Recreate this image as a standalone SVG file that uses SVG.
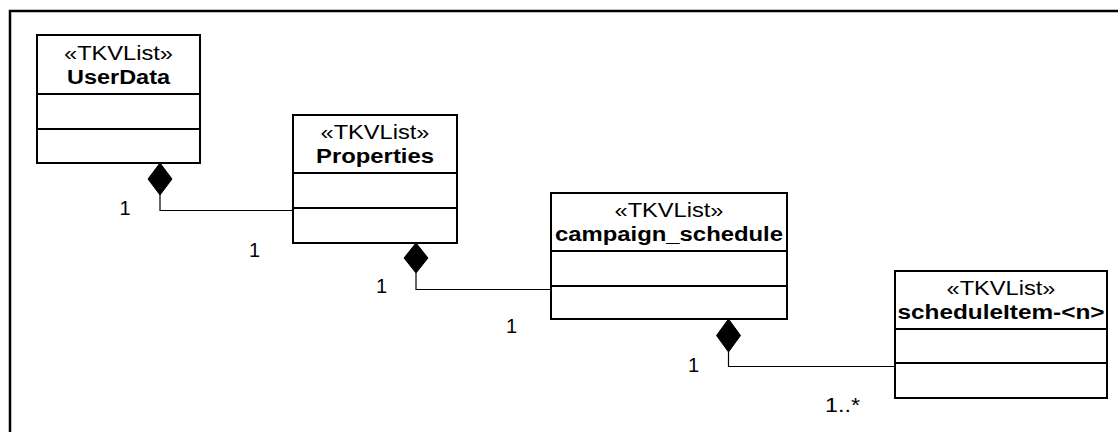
<svg xmlns="http://www.w3.org/2000/svg" width="1118" height="432" viewBox="0 0 1118 432">
<style>
.frame{fill:none;stroke:#000;stroke-width:2.5}
.box{fill:#fff;stroke:#000;stroke-width:2}
.div{stroke:#000;stroke-width:2}
.st{font-family:"Liberation Sans",Arial,sans-serif;font-size:20px;fill:#000;text-anchor:middle}
.nm{font-family:"Liberation Sans",Arial,sans-serif;font-size:20px;font-weight:bold;fill:#000;text-anchor:middle}
.lbl{font-family:"Liberation Sans",Arial,sans-serif;font-size:20px;fill:#000}
.conn{fill:none;stroke:#000;stroke-width:1.2}
.dia{fill:#000;stroke:#000;stroke-width:1}
</style>
<rect width="1118" height="432" fill="#fff"/>
<rect class="frame" x="10" y="11" width="1200" height="500"/>

<g id="UserData">
<rect class="box" x="37" y="35" width="163" height="128"/>
<line class="div" x1="37" y1="94" x2="200" y2="94"/>
<line class="div" x1="37" y1="129" x2="200" y2="129"/>
<text class="st" x="118.5" y="60" textLength="109" lengthAdjust="spacingAndGlyphs">«TKVList»</text>
<text class="nm" x="118.5" y="84" textLength="103" lengthAdjust="spacingAndGlyphs">UserData</text>
</g>

<g id="Properties">
<rect class="box" x="293" y="115" width="164" height="128"/>
<line class="div" x1="293" y1="173" x2="457" y2="173"/>
<line class="div" x1="293" y1="208" x2="457" y2="208"/>
<text class="st" x="375" y="139" textLength="109" lengthAdjust="spacingAndGlyphs">«TKVList»</text>
<text class="nm" x="375" y="163" textLength="118" lengthAdjust="spacingAndGlyphs">Properties</text>
</g>

<g id="campaign_schedule">
<rect class="box" x="551" y="193" width="236" height="126"/>
<line class="div" x1="551" y1="251" x2="787" y2="251"/>
<line class="div" x1="551" y1="286" x2="787" y2="286"/>
<text class="st" x="669" y="217" textLength="109" lengthAdjust="spacingAndGlyphs">«TKVList»</text>
<text class="nm" x="669" y="241" textLength="228" lengthAdjust="spacingAndGlyphs">campaign_schedule</text>
</g>

<g id="scheduleItem">
<rect class="box" x="895" y="271" width="212" height="127"/>
<line class="div" x1="895" y1="329" x2="1107" y2="329"/>
<line class="div" x1="895" y1="363" x2="1107" y2="363"/>
<text class="st" x="1001" y="295" textLength="109" lengthAdjust="spacingAndGlyphs">«TKVList»</text>
<text class="nm" x="1001" y="319" textLength="207" lengthAdjust="spacingAndGlyphs">scheduleItem-&lt;n&gt;</text>
</g>

<g id="connectors">
<polyline class="conn" points="160,195 160,210.5 293,210.5"/>
<polygon class="dia" points="160,163 172,179 160,195 148,179"/>
<polyline class="conn" points="416,273 416,289.5 551,289.5"/>
<polygon class="dia" points="416,243 428,258 416,273 404,258"/>
<polyline class="conn" points="728.5,352 728.5,366.5 895,366.5"/>
<polygon class="dia" points="728.5,319 740.5,335.5 728.5,352 716.5,335.5"/>
<text class="lbl" x="119.5" y="215">1</text>
<text class="lbl" x="249" y="257">1</text>
<text class="lbl" x="376" y="293">1</text>
<text class="lbl" x="506" y="333">1</text>
<text class="lbl" x="688" y="372">1</text>
<text class="lbl" x="825" y="412" textLength="35" lengthAdjust="spacingAndGlyphs">1..*</text>
</g>
</svg>
